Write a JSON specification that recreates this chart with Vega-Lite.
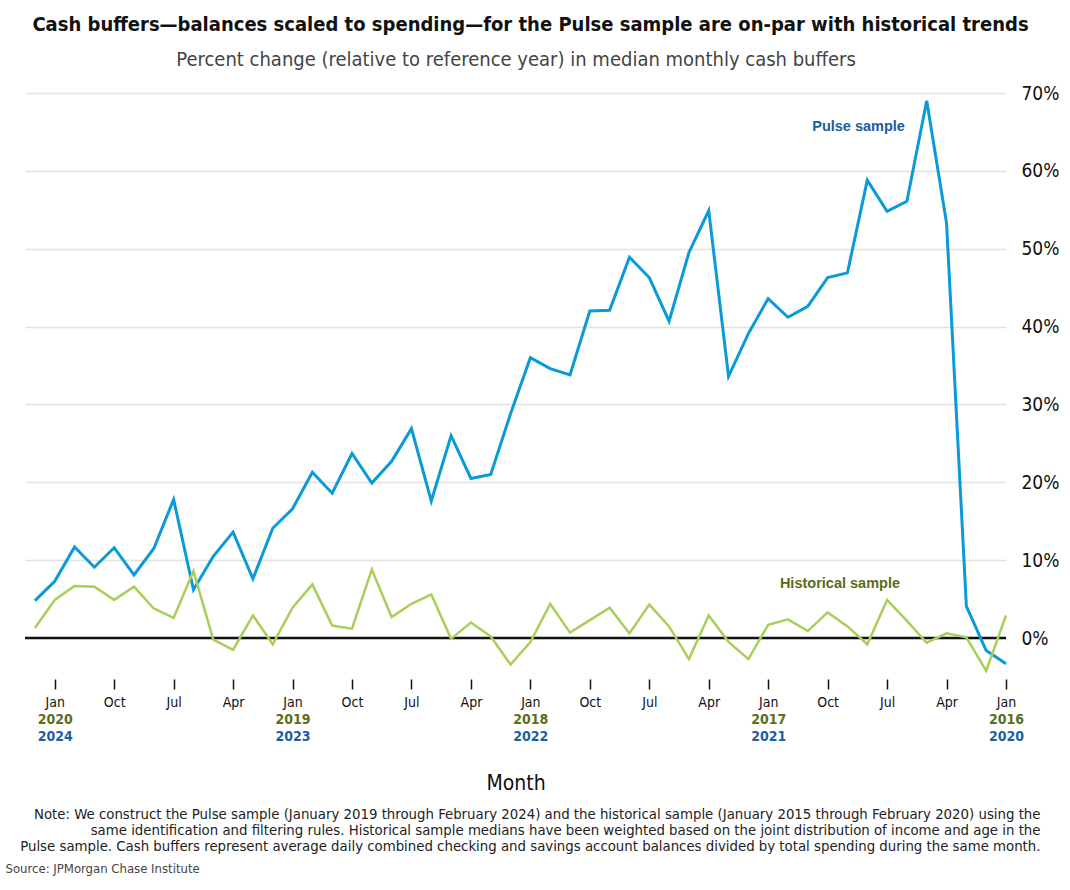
{
  "$schema": "https://vega.github.io/schema/vega-lite/v6.json",
  "width": 981,
  "height": 584,
  "autosize": {"type": "none"},
  "padding": {"left": 25, "top": 93, "right": 64, "bottom": 213},
  "background": "white",
  "config": {
    "view": {"stroke": null},
    "font": "DejaVu Sans Condensed, Liberation Sans Narrow, Liberation Sans"
  },
  "title": {
    "text": "Cash buffers—balances scaled to spending—for the Pulse sample are on-par with historical trends",
    "fontSize": 20,
    "fontWeight": "bold",
    "color": "#111111",
    "anchor": "middle",
    "dx": 15,
    "offset": 14
  },
  "datasets": {
    "lines": [
      {"month_index": 0, "series": "Pulse sample", "value": -3.3},
      {"month_index": 1, "series": "Pulse sample", "value": -1.6},
      {"month_index": 2, "series": "Pulse sample", "value": 4.1},
      {"month_index": 3, "series": "Pulse sample", "value": 53.3},
      {"month_index": 4, "series": "Pulse sample", "value": 69.0},
      {"month_index": 5, "series": "Pulse sample", "value": 56.1},
      {"month_index": 6, "series": "Pulse sample", "value": 54.8},
      {"month_index": 7, "series": "Pulse sample", "value": 58.8},
      {"month_index": 8, "series": "Pulse sample", "value": 46.9},
      {"month_index": 9, "series": "Pulse sample", "value": 46.3},
      {"month_index": 10, "series": "Pulse sample", "value": 42.6},
      {"month_index": 11, "series": "Pulse sample", "value": 41.2},
      {"month_index": 12, "series": "Pulse sample", "value": 43.6},
      {"month_index": 13, "series": "Pulse sample", "value": 39.1},
      {"month_index": 14, "series": "Pulse sample", "value": 33.6},
      {"month_index": 15, "series": "Pulse sample", "value": 54.9},
      {"month_index": 16, "series": "Pulse sample", "value": 49.5},
      {"month_index": 17, "series": "Pulse sample", "value": 40.7},
      {"month_index": 18, "series": "Pulse sample", "value": 46.3},
      {"month_index": 19, "series": "Pulse sample", "value": 48.9},
      {"month_index": 20, "series": "Pulse sample", "value": 42.1},
      {"month_index": 21, "series": "Pulse sample", "value": 42.0},
      {"month_index": 22, "series": "Pulse sample", "value": 33.8},
      {"month_index": 23, "series": "Pulse sample", "value": 34.6},
      {"month_index": 24, "series": "Pulse sample", "value": 36.0},
      {"month_index": 25, "series": "Pulse sample", "value": 28.8},
      {"month_index": 26, "series": "Pulse sample", "value": 21.0},
      {"month_index": 27, "series": "Pulse sample", "value": 20.5},
      {"month_index": 28, "series": "Pulse sample", "value": 26.0},
      {"month_index": 29, "series": "Pulse sample", "value": 17.6},
      {"month_index": 30, "series": "Pulse sample", "value": 26.9},
      {"month_index": 31, "series": "Pulse sample", "value": 22.7},
      {"month_index": 32, "series": "Pulse sample", "value": 19.9},
      {"month_index": 33, "series": "Pulse sample", "value": 23.7},
      {"month_index": 34, "series": "Pulse sample", "value": 18.6},
      {"month_index": 35, "series": "Pulse sample", "value": 21.3},
      {"month_index": 36, "series": "Pulse sample", "value": 16.6},
      {"month_index": 37, "series": "Pulse sample", "value": 14.1},
      {"month_index": 38, "series": "Pulse sample", "value": 7.6},
      {"month_index": 39, "series": "Pulse sample", "value": 13.6},
      {"month_index": 40, "series": "Pulse sample", "value": 10.5},
      {"month_index": 41, "series": "Pulse sample", "value": 6.2},
      {"month_index": 42, "series": "Pulse sample", "value": 17.8},
      {"month_index": 43, "series": "Pulse sample", "value": 11.5},
      {"month_index": 44, "series": "Pulse sample", "value": 8.1},
      {"month_index": 45, "series": "Pulse sample", "value": 11.6},
      {"month_index": 46, "series": "Pulse sample", "value": 9.1},
      {"month_index": 47, "series": "Pulse sample", "value": 11.7},
      {"month_index": 48, "series": "Pulse sample", "value": 7.3},
      {"month_index": 49, "series": "Pulse sample", "value": 4.8},
      {"month_index": 0, "series": "Historical sample", "value": 2.9},
      {"month_index": 1, "series": "Historical sample", "value": -4.2},
      {"month_index": 2, "series": "Historical sample", "value": 0.1},
      {"month_index": 3, "series": "Historical sample", "value": 0.6},
      {"month_index": 4, "series": "Historical sample", "value": -0.6},
      {"month_index": 5, "series": "Historical sample", "value": 2.2},
      {"month_index": 6, "series": "Historical sample", "value": 4.9},
      {"month_index": 7, "series": "Historical sample", "value": -0.8},
      {"month_index": 8, "series": "Historical sample", "value": 1.5},
      {"month_index": 9, "series": "Historical sample", "value": 3.3},
      {"month_index": 10, "series": "Historical sample", "value": 0.9},
      {"month_index": 11, "series": "Historical sample", "value": 2.4},
      {"month_index": 12, "series": "Historical sample", "value": 1.7},
      {"month_index": 13, "series": "Historical sample", "value": -2.7},
      {"month_index": 14, "series": "Historical sample", "value": -0.5},
      {"month_index": 15, "series": "Historical sample", "value": 2.9},
      {"month_index": 16, "series": "Historical sample", "value": -2.7},
      {"month_index": 17, "series": "Historical sample", "value": 1.5},
      {"month_index": 18, "series": "Historical sample", "value": 4.3},
      {"month_index": 19, "series": "Historical sample", "value": 0.6},
      {"month_index": 20, "series": "Historical sample", "value": 3.9},
      {"month_index": 21, "series": "Historical sample", "value": 2.3},
      {"month_index": 22, "series": "Historical sample", "value": 0.7},
      {"month_index": 23, "series": "Historical sample", "value": 4.4},
      {"month_index": 24, "series": "Historical sample", "value": -0.5},
      {"month_index": 25, "series": "Historical sample", "value": -3.4},
      {"month_index": 26, "series": "Historical sample", "value": 0.2},
      {"month_index": 27, "series": "Historical sample", "value": 2.0},
      {"month_index": 28, "series": "Historical sample", "value": -0.1},
      {"month_index": 29, "series": "Historical sample", "value": 5.6},
      {"month_index": 30, "series": "Historical sample", "value": 4.4},
      {"month_index": 31, "series": "Historical sample", "value": 2.7},
      {"month_index": 32, "series": "Historical sample", "value": 8.8},
      {"month_index": 33, "series": "Historical sample", "value": 1.2},
      {"month_index": 34, "series": "Historical sample", "value": 1.6},
      {"month_index": 35, "series": "Historical sample", "value": 6.9},
      {"month_index": 36, "series": "Historical sample", "value": 3.9},
      {"month_index": 37, "series": "Historical sample", "value": -0.8},
      {"month_index": 38, "series": "Historical sample", "value": 2.9},
      {"month_index": 39, "series": "Historical sample", "value": -1.5},
      {"month_index": 40, "series": "Historical sample", "value": -0.2},
      {"month_index": 41, "series": "Historical sample", "value": 8.6},
      {"month_index": 42, "series": "Historical sample", "value": 2.6},
      {"month_index": 43, "series": "Historical sample", "value": 3.8},
      {"month_index": 44, "series": "Historical sample", "value": 6.6},
      {"month_index": 45, "series": "Historical sample", "value": 4.9},
      {"month_index": 46, "series": "Historical sample", "value": 6.6},
      {"month_index": 47, "series": "Historical sample", "value": 6.7},
      {"month_index": 48, "series": "Historical sample", "value": 4.9},
      {"month_index": 49, "series": "Historical sample", "value": 1.3}
    ]
  },
  "layer": [
    {
      "data": {"values": [{}]},
      "mark": {"type": "rule", "color": "#111111", "strokeWidth": 2.5},
      "encoding": {
        "y": {"datum": 0, "type": "quantitative"}
      }
    },
    {
      "data": {"name": "lines"},
      "transform": [{"filter": "datum.series === 'Pulse sample'"}],
      "mark": {"type": "line", "color": "#0a9ad9", "strokeWidth": 3},
      "encoding": {
        "x": {
          "field": "month_index",
          "type": "quantitative",
          "scale": {"domain": [0, 49.5], "reverse": true, "nice": false, "zero": false},
          "axis": {
            "orient": "bottom",
            "values": [0, 3, 6, 9, 12, 15, 18, 21, 24, 27, 30, 33, 36, 39, 42, 45, 48],
            "labelExpr": "['Jan','Apr','Jul','Oct'][round(datum.value/3)%4]",
            "domain": false,
            "grid": false,
            "ticks": true,
            "tickSize": 10,
            "tickWidth": 1.5,
            "tickColor": "#111111",
            "offset": 2,
            "labelPadding": 6,
            "labelFontSize": 14,
            "labelColor": "#111111",
            "labelFlush": false,
            "labelOverlap": false,
            "title": "Month",
            "titleFontSize": 21,
            "titleFontWeight": "normal",
            "titleColor": "#111111",
            "titleBaseline": "alphabetic",
            "titleAlign": "center",
            "titleX": 490.5,
            "titleY": 110
          }
        },
        "y": {
          "field": "value",
          "type": "quantitative",
          "scale": {"domain": [-5, 70], "nice": false, "zero": false},
          "axis": {
            "orient": "right",
            "values": [0, 10, 20, 30, 40, 50, 60, 70],
            "labelExpr": "datum.value + '%'",
            "domain": false,
            "ticks": false,
            "grid": true,
            "gridColor": "#e2e2e2",
            "gridWidth": 1.5,
            "labelFontSize": 19,
            "labelColor": "#111111",
            "labelPadding": 15,
            "title": null
          }
        }
      }
    },
    {
      "data": {"name": "lines"},
      "transform": [{"filter": "datum.series === 'Historical sample'"}],
      "mark": {"type": "line", "color": "#a8cf5a", "strokeWidth": 2.5},
      "encoding": {
        "x": {
          "field": "month_index",
          "type": "quantitative",
          "axis": {
            "orient": "bottom",
            "values": [0, 12, 24, 36, 48],
            "labelExpr": "'' + (2016 + round(datum.value/12))",
            "domain": false,
            "grid": false,
            "ticks": false,
            "tickSize": 0,
            "offset": 2,
            "labelPadding": 33,
            "labelFontSize": 14,
            "labelFontWeight": "bold",
            "labelColor": "#5b6e1c",
            "labelFlush": false,
            "labelOverlap": false,
            "title": [
              "Note: We construct the Pulse sample (January 2019 through February 2024) and the historical sample (January 2015 through February 2020) using the",
              "same identification and filtering rules. Historical sample medians have been weighted based on the joint distribution of income and age in the",
              "Pulse sample. Cash buffers represent average daily combined checking and savings account balances divided by total spending during the same month."
            ],
            "titleFontSize": 14.8,
            "titleFontWeight": "normal",
            "titleColor": "#222222",
            "titleAlign": "right",
            "titleBaseline": "alphabetic",
            "titleLineHeight": 16,
            "titleLimit": 2000,
            "titleX": 1015,
            "titleY": 139
          }
        },
        "y": {"field": "value", "type": "quantitative"}
      }
    },
    {
      "data": {"values": [{}]},
      "mark": {"type": "text", "text": "Pulse sample", "color": "#1c5c9e", "fontSize": 14.5, "fontWeight": "bold", "align": "right", "font": "Liberation Sans"},
      "encoding": {
        "x": {
          "datum": 5.1,
          "type": "quantitative",
          "axis": {
            "orient": "bottom",
            "values": [0, 12, 24, 36, 48],
            "labelExpr": "'' + (2020 + round(datum.value/12))",
            "domain": false,
            "grid": false,
            "ticks": false,
            "tickSize": 0,
            "offset": 2,
            "labelPadding": 50,
            "labelFontSize": 14,
            "labelFontWeight": "bold",
            "labelColor": "#1b5fa3",
            "labelFlush": false,
            "labelOverlap": false,
            "title": "Source: JPMorgan Chase Institute",
            "titleFontSize": 13,
            "titleFontWeight": "normal",
            "titleColor": "#444444",
            "titleAlign": "left",
            "titleBaseline": "alphabetic",
            "titleX": -20,
            "titleY": 193
          }
        },
        "y": {"datum": 65.6, "type": "quantitative"}
      }
    },
    {
      "data": {"values": [{}]},
      "mark": {"type": "text", "text": "Historical sample", "color": "#5a6b1a", "fontSize": 14.5, "fontWeight": "bold", "align": "right", "font": "Liberation Sans"},
      "encoding": {
        "x": {
          "datum": 5.35,
          "type": "quantitative",
          "axis": {
            "orient": "top",
            "labels": false,
            "ticks": false,
            "domain": false,
            "grid": false,
            "title": "Percent change (relative to reference year) in median monthly cash buffers",
            "titleFontSize": 20,
            "titleFontWeight": "normal",
            "titleColor": "#444444",
            "titleAlign": "center",
            "titleBaseline": "alphabetic",
            "titleX": 490.5,
            "titleY": -28
          }
        },
        "y": {"datum": 6.95, "type": "quantitative"}
      }
    }
  ],
  "resolve": {"axis": {"x": "independent"}}
}
